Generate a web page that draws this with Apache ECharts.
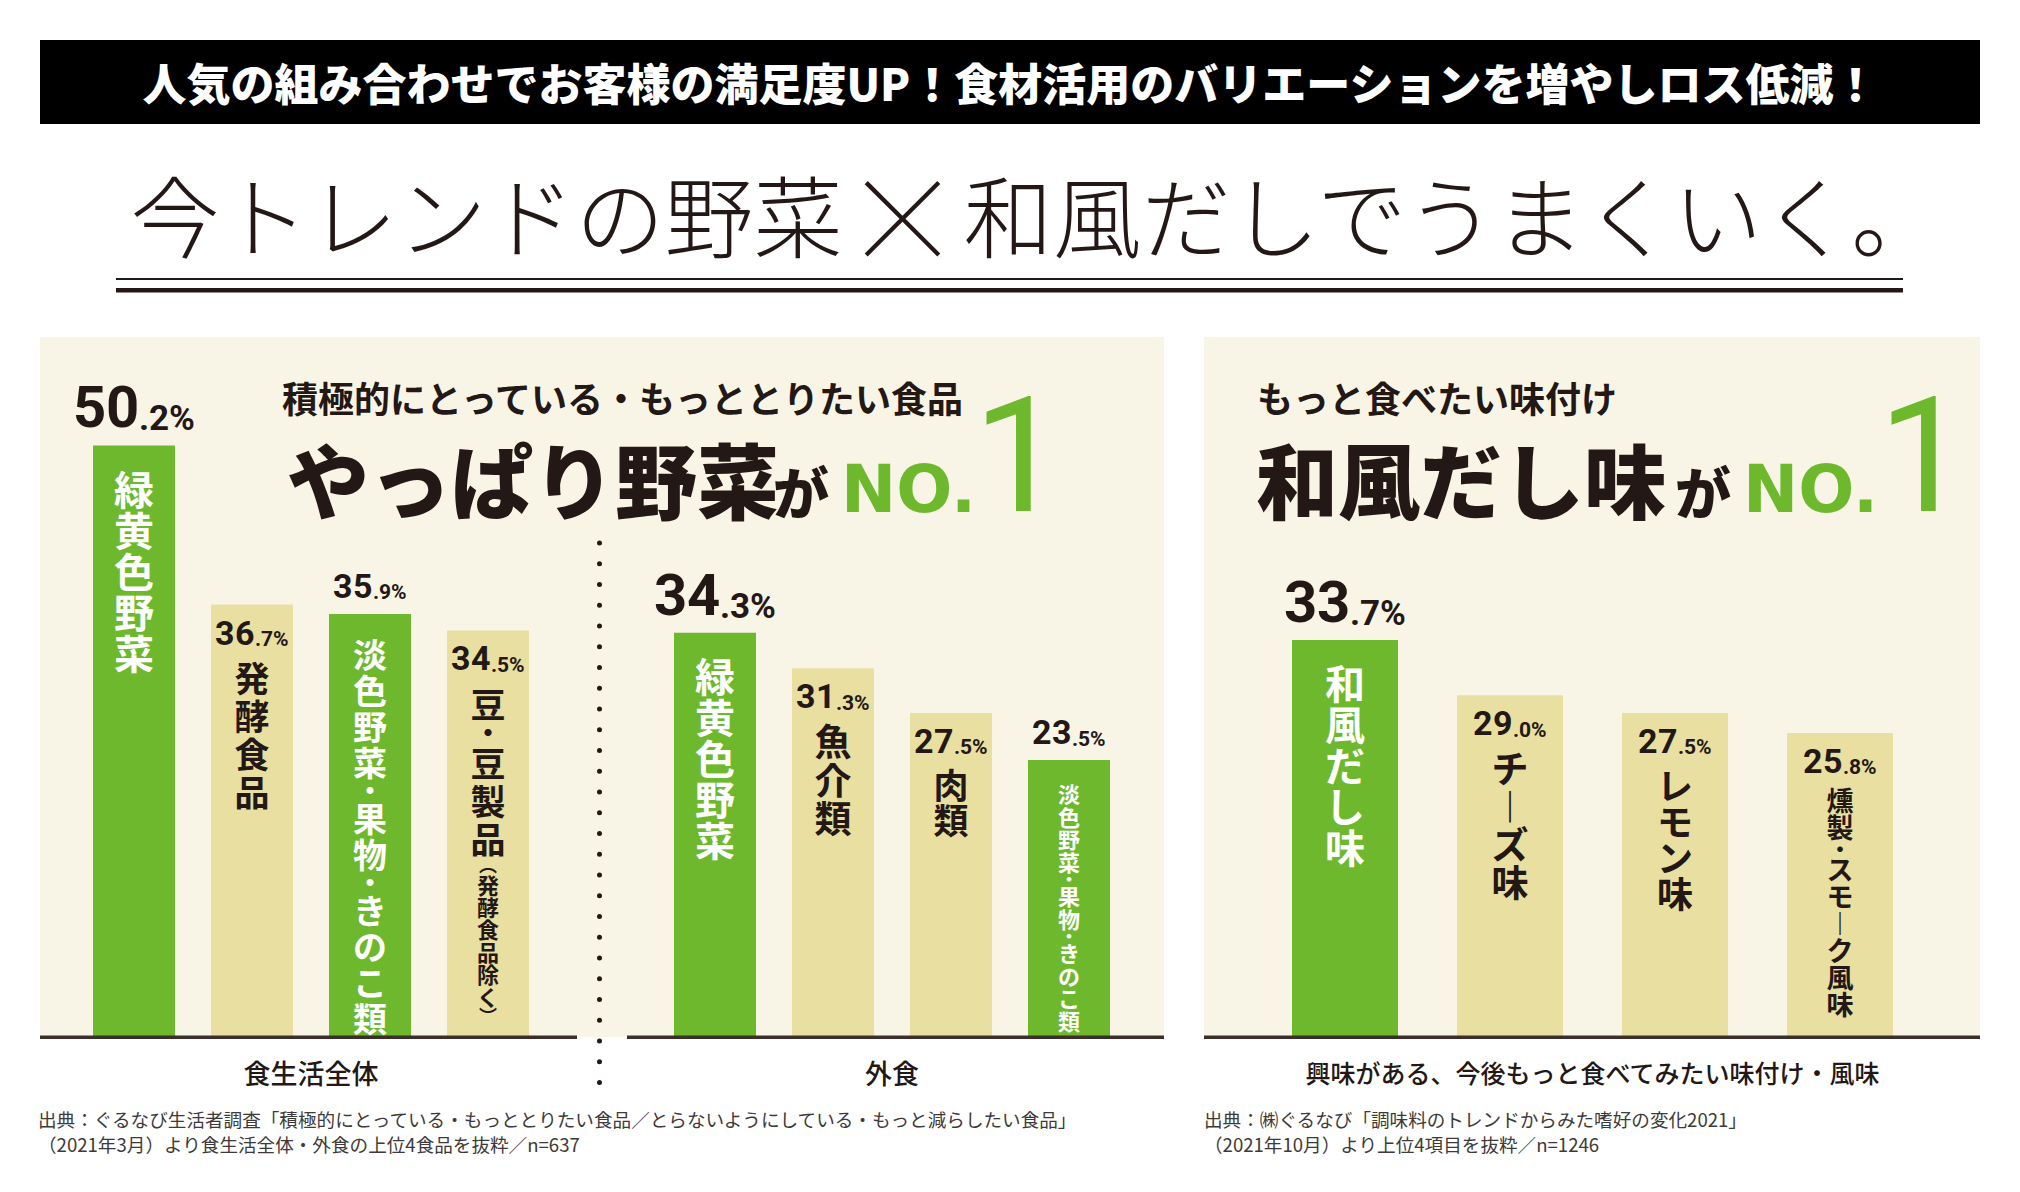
<!DOCTYPE html>
<html><head><meta charset="utf-8">
<script src="https://cdn.jsdelivr.net/npm/echarts@6/dist/echarts.min.js"></script>
<style>
@font-face{font-family:'NumC';font-weight:700;src:local('Liberation Sans Narrow Bold'),local('LiberationSansNarrow-Bold'),local('Roboto Condensed Bold'),local('RobotoCondensed-Bold'),local('DejaVu Sans Condensed Bold'),local('DejaVuSansCondensed-Bold');}
@font-face{font-family:'NumC';font-weight:400;src:local('Liberation Sans Narrow'),local('LiberationSansNarrow-Regular'),local('Liberation Sans Narrow Regular'),local('Roboto Condensed'),local('RobotoCondensed-Regular'),local('DejaVu Sans Condensed'),local('DejaVuSansCondensed');}
@font-face{font-family:'NumL';font-weight:400;src:local('Roboto Condensed Light'),local('RobotoCondensed-Light'),local('Liberation Sans Narrow'),local('LiberationSansNarrow-Regular'),local('Roboto Light'),local('Roboto-Light');}
html,body{margin:0;padding:0;background:#fff}#c{width:2020px;height:1192px}
</style>
</head><body><div id="c"></div>
<script>
// ---- data ----
const catsAll = ['緑黄色野菜', '発酵食品', '淡色野菜・果物・きのこ類', '豆・豆製品（発酵食品除く）'];
const valsAll = [50.2, 36.7, 35.9, 34.5];
const catsOut = ['緑黄色野菜', '魚介類', '肉類', '淡色野菜・果物・きのこ類'];
const valsOut = [34.3, 31.3, 27.5, 23.5];
const catsFlavor = ['和風だし味', 'チーズ味', 'レモン味', '燻製・スモーク風味'];
const valsFlavor = [33.7, 29.0, 27.5, 25.8];
const groupNames = ['食生活全体', '外食', '興味がある、今後もっと食べてみたい味付け・風味'];
const vegetableFlags = [[true, false, true, false], [true, false, false, true], [true, false, false, false]];

// ---- styles ----
const JP = "'Noto Sans CJK JP','Noto Sans CJK SC',sans-serif";
const NUM = "'NumC','Liberation Sans Narrow','DejaVu Sans Condensed',sans-serif";
const INK = '#231815';
const GREEN = '#6db82d';
const BEIGE = '#e8dfa1';
const CREAM = '#f9f5e6';
// per-bar vertical text [fontSize, pitch]
const catStyle = [
  [[40, 41], [35, 38], [34, 36], [35, 38]],
  [[40, 41], [37, 38.5], [35, 35], [22, 22.5]],
  [[40, 41], [37, 38], [36, 36], [27, 27]]
];
const nameSizes = [27, 27, 25];

const rich = {
  B: {fontSize: 58, lineHeight: 58, fontWeight: 'bold', fontFamily: NUM, color: INK, verticalAlign: 'bottom'},
  BS: {fontSize: 35, lineHeight: 42, fontWeight: 'bold', fontFamily: NUM, color: INK, verticalAlign: 'bottom'},
  b: {fontSize: 34, lineHeight: 34, fontWeight: 'bold', fontFamily: NUM, color: INK, verticalAlign: 'bottom'},
  bs: {fontSize: 21, lineHeight: 25, fontWeight: 'bold', fontFamily: NUM, color: INK, verticalAlign: 'bottom'},
  sm: {fontSize: 22, lineHeight: 22.4, fontWeight: 'bold', fontFamily: JP},
  p: {fontSize: 18, lineHeight: 16, fontWeight: 'bold', fontFamily: JP}
};
function key(s) { return (s[0] + '_' + s[1]).replace('.', 'p'); }
catStyle.flat().forEach(s => {
  const k = key(s);
  rich['c' + k] = {fontSize: s[0], lineHeight: s[1], fontWeight: 'bold', fontFamily: JP};
  rich['d' + k] = {fontSize: Math.round(s[0] * 0.8), lineHeight: Math.round(s[1] * 0.55), fontWeight: 'bold', fontFamily: JP};
});

function valueText(v, big) {
  const [i, d] = v.toFixed(1).split('.');
  return big ? `{B|${i}}{BS|.${d}%}` : `{b|${i}}{bs|.${d}%}`;
}
function vertical(str, s) {
  const k = key(s);
  const out = [];
  let inParen = false;
  for (const ch of str) {
    if (ch === '（') { out.push('{p|︵}'); inParen = true; continue; }
    if (ch === '）') { out.push('{p|︶}'); inParen = false; continue; }
    const c = ch === 'ー' ? '︱' : ch;
    if (ch === '・') out.push(`{d${k}|・}`);
    else if (inParen) out.push(`{sm|${c}}`);
    else out.push(`{c${k}|${c}}`);
  }
  return out.join('\n');
}

const sets = [
  {cats: catsAll, vals: valsAll, left: 75, width: 472, bw: 82},
  {cats: catsOut, vals: valsOut, left: 656, width: 472, bw: 82},
  {cats: catsFlavor, vals: valsFlavor, left: 1262.5, width: 660, bw: 106}
];

const grid = [], xAxis = [], yAxis = [], series = [];
sets.forEach((st, i) => {
  grid.push({left: st.left, width: st.width, top: 330, bottom: 155});
  xAxis.push({
    type: 'category', gridIndex: i, data: st.cats,
    axisLine: {show: false}, axisTick: {show: false}, axisLabel: {show: false},
    name: groupNames[i], nameLocation: 'middle', nameGap: 22,
    nameTextStyle: {fontSize: nameSizes[i], color: INK, fontFamily: JP, fontWeight: 500, verticalAlign: 'top'}
  });
  yAxis.push({type: 'value', gridIndex: i, min: 0, max: 60, show: false});
  const flags = vegetableFlags[i];
  series.push({
    type: 'bar', xAxisIndex: i, yAxisIndex: i, barWidth: st.bw, barGap: '-100%', silent: true,
    data: st.vals.map((v, j) => ({
      value: v,
      itemStyle: {color: flags[j] ? GREEN : BEIGE},
      label: {position: flags[j] ? 'top' : 'insideTop', distance: flags[j] ? (j === 0 ? 9 : 11) : 11}
    })),
    label: {show: true, rich: rich, formatter: p => valueText(p.value, p.dataIndex === 0)}
  });
  series.push({
    type: 'bar', xAxisIndex: i, yAxisIndex: i, barWidth: st.bw, barGap: '-100%', silent: true, z: 3,
    itemStyle: {color: 'rgba(0,0,0,0)'},
    data: st.vals.map((v, j) => ({
      value: v,
      label: {position: 'insideTop', distance: flags[j] ? 22 : 53, color: flags[j] ? '#ffffff' : INK}
    })),
    label: {show: true, rich: rich, formatter: p => vertical(st.cats[p.dataIndex], catStyle[i][p.dataIndex])}
  });
});

function txt(text, x, y, size, weight, fill, family, align, extra) {
  return Object.assign({type: 'text', z: 20, style: Object.assign({
    text: text, x: x, y: y, fontSize: size, fontWeight: weight, fill: fill,
    fontFamily: family || JP, textAlign: align || 'left', textVerticalAlign: 'middle'
  }, extra || {})});
}

const graphic = [
  {type: 'rect', z: -20, shape: {x: 40, y: 337, width: 1124, height: 700}, style: {fill: CREAM}},
  {type: 'rect', z: -20, shape: {x: 1204, y: 337, width: 776, height: 700}, style: {fill: CREAM}},
  {type: 'rect', z: 0, shape: {x: 40, y: 40, width: 1940, height: 84}, style: {fill: '#000'}},
  txt('人気の組み合わせでお客様の満足度UP！食材活用のバリエーションを増やしロス低減！', 1010, 82, 44, 900, '#fff', JP, 'center'),
  txt('今トレンドの野菜{x|×}和風だしでうまくいく。', 1036, 212, 89, 300, INK, JP, 'center', {
    rich: {x: {fontSize: 120, fontWeight: 100, fontFamily: JP, lineHeight: 100}}
  }),
  {type: 'rect', z: 0, shape: {x: 116, y: 278, width: 1787, height: 2}, style: {fill: INK}},
  {type: 'rect', z: 0, shape: {x: 116, y: 288, width: 1787, height: 4.5}, style: {fill: INK}},
  // axis baselines
  {type: 'rect', z: 30, shape: {x: 40, y: 1035.5, width: 537, height: 3.5}, style: {fill: '#3b2f2a'}},
  {type: 'rect', z: 30, shape: {x: 627, y: 1035.5, width: 537, height: 3.5}, style: {fill: '#3b2f2a'}},
  {type: 'rect', z: 30, shape: {x: 1204, y: 1035.5, width: 776, height: 3.5}, style: {fill: '#3b2f2a'}},
  {type: 'line', z: 30, shape: {x1: 599.5, y1: 543, x2: 599.5, y2: 1083},
   style: {stroke: INK, lineWidth: 5, lineDash: [0, 20.75], lineCap: 'round'}},
  // left heading
  txt('積極的にとっている・もっととりたい食品', 282, 397, 36, 700, INK),
  txt('やっぱり野菜', 287, 477, 82, 900, INK),
  txt('が', 773, 489, 56, 900, INK),
  txt('NO.', 841, 489, 66, 700, GREEN, "'DejaVu Sans',sans-serif"),
  txt('1', 973, 456, 162, 400, GREEN, "'NumL','NumC',sans-serif"),
  // right heading
  txt('もっと食べたい味付け', 1257, 397, 36, 700, INK),
  txt('和風だし味', 1256, 477, 82, 900, INK),
  txt('が', 1675, 489, 56, 900, INK),
  txt('NO.', 1743, 489, 66, 700, GREEN, "'DejaVu Sans',sans-serif"),
  txt('1', 1878, 456, 162, 400, GREEN, "'NumL','NumC',sans-serif"),
  // sources
  txt('出典：ぐるなび生活者調査「積極的にとっている・もっととりたい食品／とらないようにしている・もっと減らしたい食品」', 38, 1118, 18.6, 400, '#3e3a39'),
  txt('（2021年3月）より食生活全体・外食の上位4食品を抜粋／n=637', 38, 1143, 18.6, 400, '#3e3a39'),
  txt('出典：㈱ぐるなび「調味料のトレンドからみた嗜好の変化2021」', 1204, 1118, 18.6, 400, '#3e3a39'),
  txt('（2021年10月）より上位4項目を抜粋／n=1246', 1204, 1143, 18.6, 400, '#3e3a39')
];

const chart = echarts.init(document.getElementById('c'), null, {renderer: 'svg', width: 2020, height: 1192});
chart.setOption({
  animation: false,
  backgroundColor: '#ffffff',
  grid, xAxis, yAxis, series, graphic
});
</script></body></html>
